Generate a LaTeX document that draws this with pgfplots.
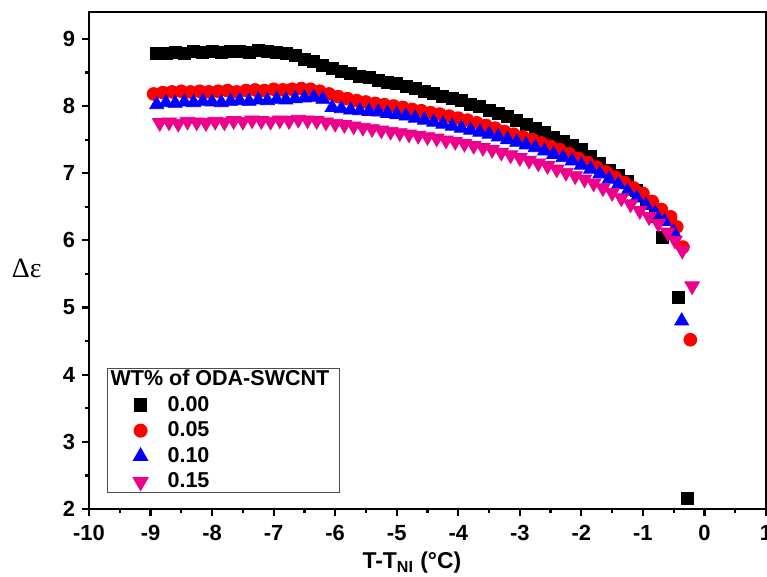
\documentclass[border=0pt]{standalone}
\usepackage{fontspec}
\setmainfont{Liberation Sans}
\newfontfamily\serifgreek{Liberation Serif}
\usepackage{pgfplots}
\pgfplotsset{compat=1.18}
\begin{document}
\begin{tikzpicture}
\begin{axis}[
 at={(0,0)}, anchor=south west,
 scale only axis, width=338.5bp, height=248.5bp,
 xmin=-10, xmax=1, ymin=2, ymax=9.4,
 xtick={-10,-9,...,1}, ytick={2,3,...,9},
 minor x tick num=1, minor y tick num=1,
 tick align=outside, xtick pos=bottom, ytick pos=left,
 major tick length=3.5bp, minor tick length=2bp,
 every tick/.style={line width=1.1bp, black},
 axis line style={line width=1.2bp},
 /pgf/number format/assume math mode=true,
 ticklabel style={font=\bfseries\fontsize{11}{13}\selectfont},
 xticklabel style={yshift=-1bp},
 xlabel={T-T\textsubscript{NI} (°C)},
 xlabel style={font=\bfseries\fontsize{11.5}{13}\selectfont, at={(axis description cs:0.477,0)}, anchor=north, yshift=-18bp},
 ylabel={\serifgreek Δε},
 ylabel style={font=\fontsize{14}{16}\selectfont, rotate=-90, at={(axis description cs:-0.092,0.485)}, anchor=center},
 legend style={at={(axis description cs:0.0266,0.032)}, anchor=south west, draw=black!70, line width=0.6bp, font=\bfseries\fontsize{10.8}{12}\selectfont, row sep=2.2bp, inner ysep=0bp, nodes={inner ysep=0.8bp}},
 legend cell align=left,
 legend image code/.code={\path[draw=none,fill=none] (-3bp,0) -- (22bp,0); \draw[#1] plot coordinates {(10.5bp,0bp)};},
]
\addlegendimage{empty legend}
\addlegendentry{\hspace*{-28.5bp}WT\% of ODA-SWCNT}
\addplot[only marks, mark=square*, mark size=3bp, black] table {
x y
-8.90 8.78
-8.75 8.79
-8.60 8.80
-8.45 8.79
-8.30 8.81
-8.15 8.80
-8.00 8.82
-7.85 8.80
-7.70 8.81
-7.55 8.82
-7.40 8.80
-7.25 8.83
-7.10 8.82
-6.95 8.80
-6.80 8.78
-6.65 8.76
-6.50 8.70
-6.35 8.66
-6.20 8.61
-6.05 8.56
-5.90 8.52
-5.75 8.49
-5.60 8.44
-5.45 8.42
-5.30 8.38
-5.15 8.35
-5.00 8.33
-4.85 8.29
-4.70 8.26
-4.55 8.22
-4.40 8.19
-4.25 8.15
-4.10 8.12
-3.95 8.08
-3.80 8.03
-3.65 7.99
-3.50 7.94
-3.35 7.89
-3.20 7.84
-3.05 7.78
-2.90 7.72
-2.75 7.66
-2.60 7.61
-2.45 7.54
-2.30 7.48
-2.15 7.41
-2.00 7.35
-1.85 7.25
-1.70 7.15
-1.55 7.04
-1.40 6.96
-1.25 6.88
-1.10 6.75
-0.95 6.58
-0.80 6.35
-0.68 6.05
-0.42 5.15
-0.27 2.16
};
\addlegendentry{0.00}
\addplot[only marks, mark=*, mark size=3.2bp, red] table {
x y
-8.95 8.18
-8.80 8.20
-8.65 8.21
-8.50 8.22
-8.35 8.21
-8.20 8.22
-8.05 8.21
-7.90 8.22
-7.75 8.23
-7.60 8.21
-7.45 8.23
-7.30 8.24
-7.15 8.23
-7.00 8.25
-6.85 8.24
-6.70 8.25
-6.55 8.26
-6.40 8.25
-6.25 8.22
-6.10 8.18
-5.95 8.14
-5.80 8.11
-5.65 8.08
-5.50 8.06
-5.35 8.04
-5.20 8.02
-5.05 8.00
-4.90 7.98
-4.75 7.95
-4.60 7.93
-4.45 7.90
-4.30 7.88
-4.15 7.85
-4.00 7.82
-3.85 7.79
-3.70 7.75
-3.55 7.71
-3.40 7.67
-3.25 7.62
-3.10 7.58
-2.95 7.54
-2.80 7.50
-2.65 7.45
-2.50 7.40
-2.35 7.35
-2.20 7.29
-2.05 7.22
-1.90 7.16
-1.75 7.09
-1.60 7.02
-1.45 6.94
-1.30 6.86
-1.15 6.78
-1.00 6.70
-0.85 6.58
-0.70 6.46
-0.55 6.35
-0.45 6.20
-0.35 5.90
-0.23 4.52
};
\addlegendentry{0.05}
\addplot[only marks, mark=triangle*, mark size=4bp, blue] table {
x y
-8.90 8.02
-8.75 8.05
-8.60 8.04
-8.45 8.06
-8.30 8.05
-8.15 8.07
-8.00 8.06
-7.85 8.05
-7.70 8.07
-7.55 8.08
-7.40 8.07
-7.25 8.09
-7.10 8.08
-6.95 8.10
-6.80 8.09
-6.65 8.11
-6.50 8.12
-6.35 8.13
-6.20 8.10
-6.05 7.98
-5.90 7.96
-5.75 7.94
-5.60 7.93
-5.45 7.92
-5.30 7.91
-5.15 7.89
-5.00 7.87
-4.85 7.85
-4.70 7.82
-4.55 7.79
-4.40 7.76
-4.25 7.73
-4.10 7.70
-3.95 7.67
-3.80 7.64
-3.65 7.61
-3.50 7.58
-3.35 7.54
-3.20 7.50
-3.05 7.46
-2.90 7.42
-2.75 7.38
-2.60 7.33
-2.45 7.28
-2.30 7.23
-2.15 7.18
-2.00 7.12
-1.85 7.06
-1.70 6.99
-1.55 6.91
-1.40 6.83
-1.25 6.73
-1.10 6.63
-0.95 6.52
-0.80 6.40
-0.65 6.28
-0.50 6.12
-0.37 4.80
};
\addlegendentry{0.10}
\addplot[only marks, mark=triangle*, mark size=4.2bp, magenta, mark options={rotate=180}] table {
x y
-8.85 7.75
-8.70 7.76
-8.55 7.74
-8.40 7.77
-8.25 7.76
-8.10 7.75
-7.95 7.77
-7.80 7.76
-7.65 7.78
-7.50 7.77
-7.35 7.79
-7.20 7.78
-7.05 7.77
-6.90 7.79
-6.75 7.78
-6.60 7.80
-6.45 7.79
-6.30 7.78
-6.15 7.76
-6.00 7.74
-5.85 7.72
-5.70 7.70
-5.55 7.68
-5.40 7.66
-5.25 7.64
-5.10 7.62
-4.95 7.60
-4.80 7.58
-4.65 7.56
-4.50 7.54
-4.35 7.52
-4.20 7.49
-4.05 7.47
-3.90 7.44
-3.75 7.41
-3.60 7.38
-3.45 7.35
-3.30 7.31
-3.15 7.27
-3.00 7.23
-2.85 7.19
-2.70 7.15
-2.55 7.11
-2.40 7.06
-2.25 7.01
-2.10 6.96
-1.95 6.91
-1.80 6.85
-1.65 6.78
-1.50 6.71
-1.35 6.63
-1.20 6.54
-1.05 6.44
-0.90 6.35
-0.75 6.25
-0.60 6.12
-0.48 6.00
-0.36 5.85
-0.20 5.32
};
\addlegendentry{0.15}
\end{axis}
\pgfresetboundingbox
\useasboundingbox (-44.5bp,-34bp) rectangle (339bp,254.5bp);
\end{tikzpicture}
\end{document}
